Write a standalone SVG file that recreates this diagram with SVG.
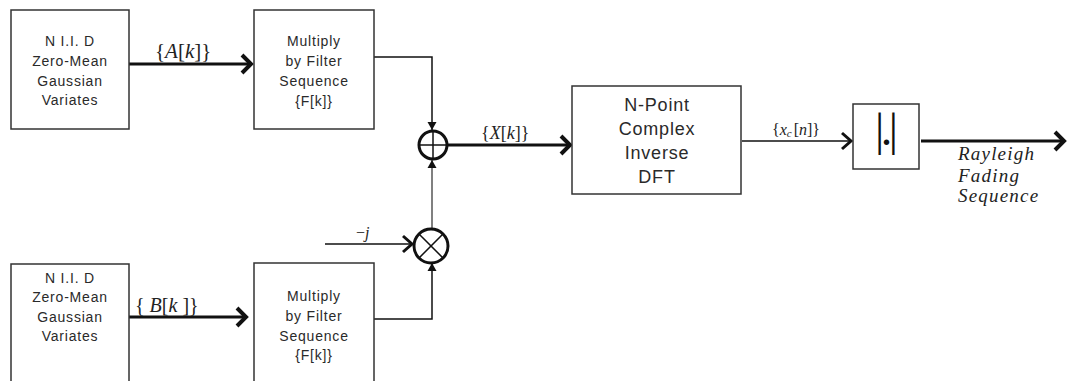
<svg xmlns="http://www.w3.org/2000/svg" width="1067" height="381" viewBox="0 0 1067 381">
<defs>
<style>
.box{fill:#fff;stroke:#333;stroke-width:1.5}
.lbl{font-family:"Liberation Sans",Arial,sans-serif;font-size:14px;fill:#2a2a2a;text-anchor:middle;letter-spacing:0.8px}
.big{font-family:"Liberation Sans",Arial,sans-serif;font-size:18px;fill:#2a2a2a;text-anchor:middle;letter-spacing:0.8px}
.math{font-family:"Liberation Serif","Times New Roman",serif;fill:#222}
.it{font-style:italic}
.thick{fill:none;stroke:#111;stroke-width:3}
.thin{fill:none;stroke:#111;stroke-width:1.5}
.gray{fill:none;stroke:#808080;stroke-width:2}
.circ{fill:#fff;stroke:#111;stroke-width:3}
</style>
<marker id="chev" viewBox="-14 -12 16 24" refX="0" refY="0" markerWidth="16" markerHeight="24" markerUnits="userSpaceOnUse" orient="auto">
<path d="M-10,-9 L-1,0 L-10,9" fill="none" stroke="#111" stroke-width="4"/>
</marker>
<marker id="chevs" viewBox="-14 -12 16 24" refX="0" refY="0" markerWidth="16" markerHeight="24" markerUnits="userSpaceOnUse" orient="auto">
<path d="M-10,-8 L-1,0 L-10,8" fill="none" stroke="#111" stroke-width="3"/>
</marker>
<marker id="tri" viewBox="-10 -6 12 12" refX="0" refY="0" markerWidth="12" markerHeight="12" markerUnits="userSpaceOnUse" orient="auto">
<path d="M0,0 L-8,-4.5 L-8,4.5 Z" fill="#111"/>
</marker>
</defs>
<rect x="0" y="0" width="1067" height="381" fill="#fff"/>

<g id="connectors">
<line class="thick" x1="129" y1="64" x2="252" y2="64" marker-end="url(#chev)"/>
<line class="thick" x1="129" y1="317" x2="247" y2="317" marker-end="url(#chev)"/>
<path class="thin" d="M374,57 H432 V130" marker-end="url(#tri)"/>
<path class="thin" d="M374,319 H432 V263" marker-end="url(#tri)"/>
<line class="gray" x1="432" y1="229" x2="432" y2="160" marker-end="url(#tri)"/>
<line class="thin" x1="325" y1="244" x2="413" y2="244" marker-end="url(#chevs)"/>
<line class="thick" x1="447" y1="145" x2="571" y2="145" marker-end="url(#chev)"/>
<line class="thin" x1="742" y1="141" x2="852" y2="141" marker-end="url(#chevs)"/>
<line class="thick" x1="921" y1="141" x2="1065" y2="141" marker-end="url(#chev)"/>
<text class="math" x="155" y="58" font-size="21">{<tspan class="it">A</tspan>[<tspan class="it">k</tspan>]}</text>
<text class="math" x="135" y="312" font-size="20" xml:space="preserve">{ <tspan class="it">B</tspan>[<tspan class="it">k</tspan> ]}</text>
<text class="math" x="481" y="139" font-size="18">{<tspan class="it">X</tspan>[<tspan class="it">k</tspan>]}</text>
<text class="math" x="772" y="135" font-size="16">{<tspan class="it">x</tspan><tspan class="it" font-size="11" dy="2">c</tspan><tspan dy="-2" dx="2">[</tspan><tspan class="it">n</tspan>]}</text>
<text class="math" x="356" y="238" font-size="16">−<tspan class="it">j</tspan></text>
<text class="math it" font-size="19" letter-spacing="1.2"><tspan x="958" y="160">Rayleigh</tspan><tspan x="958" y="182">Fading</tspan><tspan x="958" y="202">Sequence</tspan></text>
</g>

<g id="gen-a">
<rect class="box" x="11" y="10" width="118" height="119"/>
<text class="lbl"><tspan x="70" y="46">N I.I. D</tspan><tspan x="70" y="66">Zero-Mean</tspan><tspan x="70" y="86">Gaussian</tspan><tspan x="70" y="105">Variates</tspan></text>
</g>
<g id="filter-a">
<rect class="box" x="254" y="10" width="120" height="119"/>
<text class="lbl"><tspan x="314" y="46">Multiply</tspan><tspan x="314" y="66">by Filter</tspan><tspan x="314" y="86">Sequence</tspan><tspan x="314" y="106">{F[k]}</tspan></text>
</g>
<g id="gen-b">
<rect class="box" x="11" y="264" width="118" height="130"/>
<text class="lbl"><tspan x="70" y="283">N I.I. D</tspan><tspan x="70" y="302">Zero-Mean</tspan><tspan x="70" y="322">Gaussian</tspan><tspan x="70" y="341">Variates</tspan></text>
</g>
<g id="filter-b">
<rect class="box" x="254" y="263" width="120" height="130"/>
<text class="lbl"><tspan x="314" y="301">Multiply</tspan><tspan x="314" y="321">by Filter</tspan><tspan x="314" y="341">Sequence</tspan><tspan x="314" y="360">{F[k]}</tspan></text>
</g>
<g id="adder">
<circle class="circ" cx="433" cy="145" r="14"/>
<line class="thin" x1="433" y1="131" x2="433" y2="159" stroke-width="2"/>
<line class="thin" x1="419" y1="145" x2="447" y2="145" stroke-width="2"/>
</g>
<g id="multiplier">
<circle class="circ" cx="431" cy="246" r="17"/>
<line class="thin" x1="419" y1="234" x2="443" y2="258" stroke-width="2.5"/>
<line class="thin" x1="443" y1="234" x2="419" y2="258" stroke-width="2.5"/>
</g>
<g id="idft">
<rect class="box" x="572" y="86" width="169" height="108"/>
<text class="big"><tspan x="657" y="111">N-Point</tspan><tspan x="657" y="135">Complex</tspan><tspan x="657" y="159">Inverse</tspan><tspan x="657" y="183">DFT</tspan></text>
</g>
<g id="abs">
<rect class="box" x="853" y="104" width="66" height="65"/>
<text x="875" y="145" font-family="'Liberation Serif','Times New Roman',serif" font-size="46" letter-spacing="-3.5" fill="#111">|.|</text>
</g>
</svg>
